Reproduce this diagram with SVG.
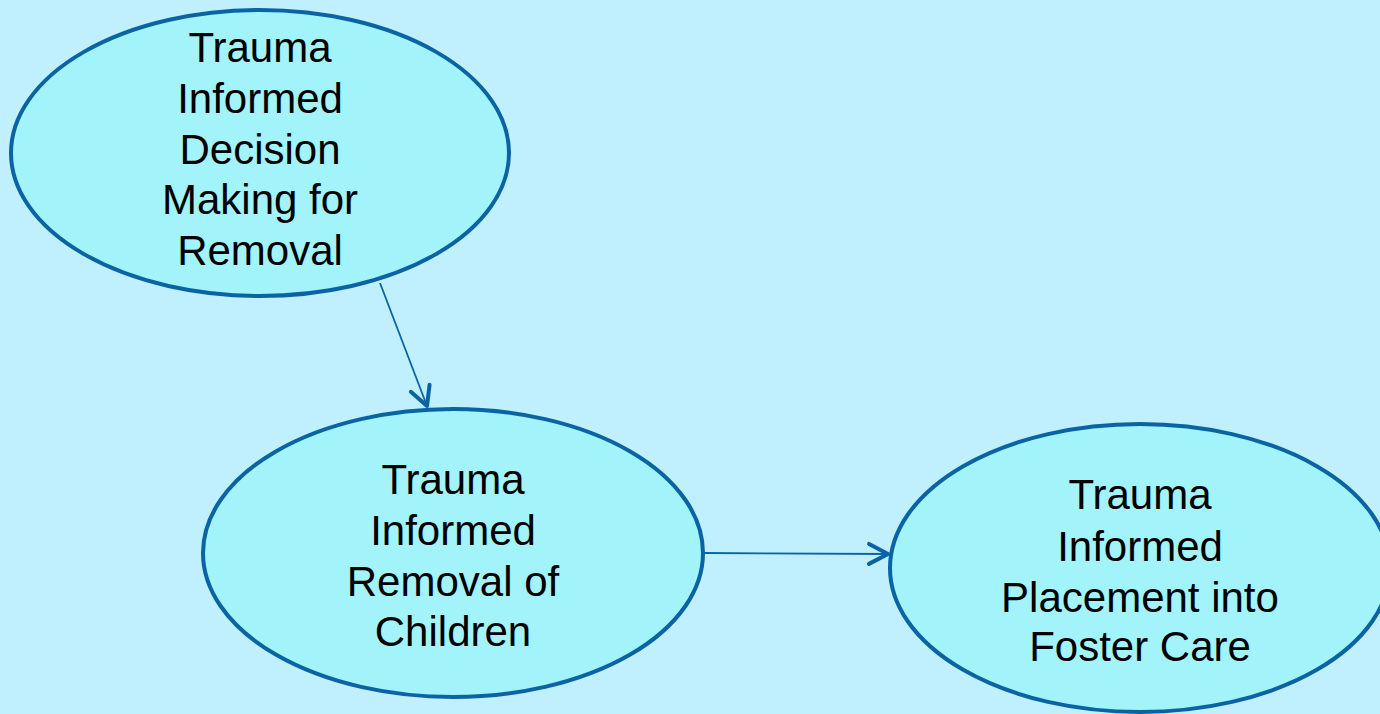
<svg xmlns="http://www.w3.org/2000/svg" width="1380" height="714" viewBox="0 0 1380 714">
<defs>
<style>
.node ellipse{fill:#A3F3FA;stroke:#0A64A4;stroke-width:4}
.node text{font-family:"Liberation Sans",Arial,sans-serif;font-size:42px;fill:#000;text-anchor:middle}
.edge{stroke:#0A64A4;stroke-width:1.8;fill:none;marker-end:url(#chev)}
</style>
<marker id="chev" markerUnits="userSpaceOnUse" viewBox="-24 -14 28 28" markerWidth="28" markerHeight="28" refX="0" refY="0" orient="auto">
<path d="M-19,-10 L0,0 L-19,10" fill="none" stroke="#0A64A4" stroke-width="4" stroke-linecap="round" stroke-linejoin="round"/>
</marker>
</defs>
<rect width="1380" height="714" fill="#C0EFFD"/>
<g id="connectors">
<line class="edge" x1="380" y1="283" x2="427" y2="406"/>
<line class="edge" x1="704" y1="553" x2="888" y2="554"/>
</g>
<g id="node1" class="node">
<ellipse cx="260" cy="153" rx="249" ry="143"/>
<text x="260" y="62">Trauma</text>
<text x="260" y="113">Informed</text>
<text x="260" y="164">Decision</text>
<text x="260" y="214">Making for</text>
<text x="260" y="265">Removal</text>
</g>
<g id="node2" class="node">
<ellipse cx="453" cy="553" rx="250" ry="144"/>
<text x="453" y="494">Trauma</text>
<text x="453" y="545">Informed</text>
<text x="453" y="596">Removal of</text>
<text x="453" y="646">Children</text>
</g>
<g id="node3" class="node">
<ellipse cx="1140" cy="568" rx="250" ry="144"/>
<text x="1140" y="509">Trauma</text>
<text x="1140" y="561">Informed</text>
<text x="1140" y="612">Placement into</text>
<text x="1140" y="661">Foster Care</text>
</g>
</svg>
